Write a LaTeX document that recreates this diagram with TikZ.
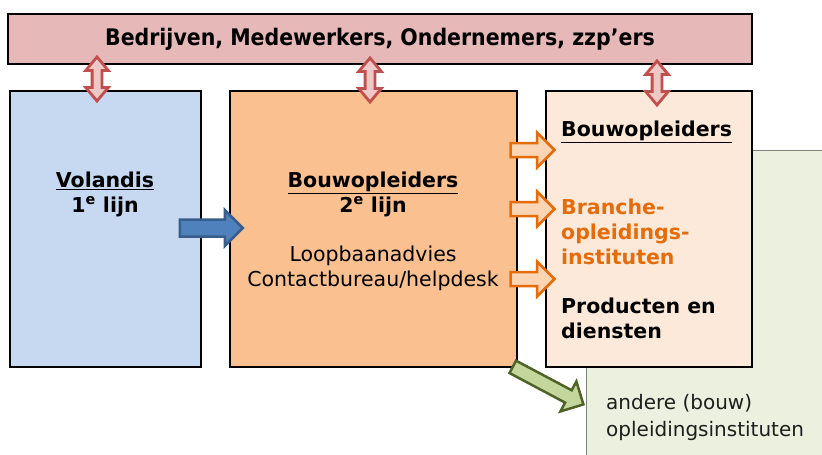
\documentclass[tikz,border=0pt]{standalone}
\usepackage{fontspec}
\setmainfont{DejaVu Sans}
\newfontfamily\bannerfont{DejaVu Sans Condensed}
\usetikzlibrary{shapes.arrows,positioning,calc}
\definecolor{BannerR}{RGB}{230,185,184}
\definecolor{BlueL}  {RGB}{198,217,241}
\definecolor{OrangeM}{RGB}{250,192,144}
\definecolor{PeachL} {RGB}{253,233,217}
\definecolor{GreenL} {RGB}{235,241,222}
\definecolor{RedD}   {RGB}{192, 80, 77}
\definecolor{PinkL}  {RGB}{238,200,199}
\definecolor{BlueD}  {RGB}{ 56, 93,138}
\definecolor{BlueM}  {RGB}{ 79,129,189}
\definecolor{OrangeD}{RGB}{228,108, 10}
\definecolor{OrangeP}{RGB}{252,213,180}
\definecolor{GreenD} {RGB}{ 79, 98, 40}
\definecolor{GreenM} {RGB}{195,214,155}
\definecolor{TextG}  {RGB}{ 30, 30, 30}

\begin{document}
\begin{tikzpicture}[x=1pt,y=-1pt,
    box/.style={draw=black,line width=1.6pt,inner sep=0pt},
    lbl/.style={align=center,inner sep=0pt,font=\fontsize{20.5}{25}\selectfont},
    bold/.style={font=\bfseries\fontsize{20.5}{25}\selectfont},
    dblarrow/.style={double arrow,draw=RedD,fill=PinkL,line width=2.8pt,
      inner xsep=0pt,inner ysep=3.5pt,minimum height=44pt,
      double arrow head extend=6.5pt,double arrow tip angle=80,rotate=90},
    blockarrow/.style={single arrow,inner xsep=0pt,line width=2.5pt}]
  \useasboundingbox (0,0) rectangle (822,455);

  % achtergrondvlak
  \fill[GreenL] (586,150) rectangle (822,455);
  \draw[gray,line width=0.8pt] (586,455) -- (586,150) -- (822,150);

  % vlakken
  \node[box,fill=BannerR,minimum width=744pt,minimum height=50pt] (banner) at (380,39) {};
  \node[box,fill=BlueL,minimum width=191pt,minimum height=276pt] (volandis) at (105.5,229) {};
  \node[box,fill=OrangeM,minimum width=287pt,minimum height=276pt] (tweede) at (373.5,229) {};
  \node[box,fill=PeachL,minimum width=206pt,minimum height=276pt] (derde) at (649,229) {};

  % teksten
  \node[font=\bannerfont\bfseries\fontsize{22.8}{26}\selectfont] (bannertxt) at (banner) {Bedrijven, Medewerkers, Ondernemers, zzp’ers};
  \node[lbl,bold] (voltxt) at (105,194) {\underline{Volandis}\\1\textsuperscript{e} lijn};
  \node[lbl,bold] (tweedetxt) at (373,194) {\underline{Bouwopleiders}\\2\textsuperscript{e} lijn};
  \node[lbl] (advies) at (373,268) {Loopbaanadvies\\Contactbureau/helpdesk};
  \node[lbl,bold,anchor=west] (bouwtxt) at (561,132) {\underline{Bouwopleiders}};
  \node[lbl,bold,anchor=west,align=left,text=OrangeD] (branche) at (561,232) {Branche-\\opleidings-\\instituten};
  \node[lbl,bold,anchor=west,align=left] (producten) at (561,318) {Producten en\\diensten};
  \node[lbl,anchor=west,align=left,text=TextG,font=\fontsize{20}{27}\selectfont] (andere) at (606,417) {andere (bouw)\\opleidingsinstituten};

  % pijlen
  \node[dblarrow] (pijl1) at (97,79) {};
  \node[dblarrow] (pijl2) at (370,80) {};
  \node[dblarrow] (pijl3) at (657,83) {};
  \node[blockarrow,draw=BlueD,fill=BlueM,inner ysep=7.25pt,single arrow head extend=9.5pt,
    minimum height=63pt] (doorstroom) at (207,228) {};
  \foreach \y/\n in {150/a, 209/b, 279/c}
    \node[blockarrow,draw=OrangeD,fill=OrangeP,inner ysep=5.75pt,single arrow head extend=10.5pt,
      minimum height=44pt] (uit\n) at (529,\y) {};
  \node[blockarrow,draw=GreenD,fill=GreenM,inner ysep=5.75pt,single arrow head extend=10pt,
    minimum height=80pt,rotate=-28] (andpijl) at (545,384) {};
\end{tikzpicture}
\end{document}
